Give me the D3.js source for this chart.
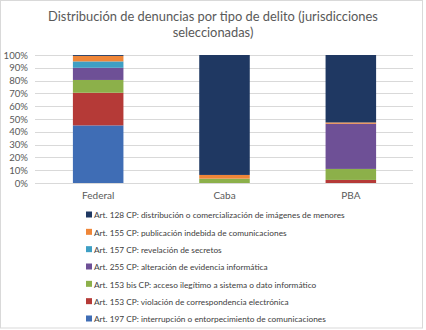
<!DOCTYPE html>
<html><head><meta charset="utf-8">
<script src="https://cdn.jsdelivr.net/npm/d3@7"></script>
<style>body{margin:0;background:#fff}svg{display:block}</style>
</head><body>
<svg id="c" width="426" height="330"></svg>
<script>
const categories = ["Federal", "Caba", "PBA"];
const seriesNames = [
  "Art. 197 CP: interrupción o entorpecimiento de comunicaciones",
  "Art. 153 CP: violación de correspondencia electrónica",
  "Art. 153 bis CP: acceso ilegítimo a sistema o dato informático",
  "Art. 255 CP: alteración de evidencia informática",
  "Art. 157 CP: revelación de secretos",
  "Art. 155 CP: publicación indebida de comunicaciones",
  "Art. 128 CP: distribución o comercialización de imágenes de menores"
];
const art197 = [45, 0, 0];
const art153 = [25.5, 0, 2.4];
const art153bis = [10, 3.4, 8.6];
const art255 = [9.5, 0, 35.3];
const art157 = [5, 0, 0];
const art155 = [4.3, 2.9, 1];
const art128 = [0.7, 93.7, 52.7];
const seriesValues = [art197, art153, art153bis, art255, art157, art155, art128];
const colors = ["#3f6db5", "#b53a37", "#8cb04a", "#6e5096", "#3e9fc4", "#ef8638", "#1f3862"];
const yTicks = [0,10,20,30,40,50,60,70,80,90,100];

const svg = d3.select("#c");
const font = "Lato, 'Open Sans', sans-serif";
svg.append("rect").attr("x",0.5).attr("y",0.5).attr("width",422).attr("height",327.5)
  .attr("fill","#fff").attr("stroke","#d9d9d9");

function fit(t, w, size){
  t.attr("font-size", size);
  const l = t.node().getComputedTextLength();
  t.attr("font-size", size*w/l);
}
// Title
const t1 = svg.append("text").attr("x",213).attr("y",21).attr("text-anchor","middle")
  .attr("font-family",font).attr("fill","#595959")
  .text("Distribución de denuncias por tipo de delito (jurisdicciones");
fit(t1, 330, 14);
svg.append("text").attr("x",213).attr("y",37).attr("text-anchor","middle")
  .attr("font-family",font).attr("fill","#595959").attr("font-size",t1.attr("font-size"))
  .text("seleccionadas)");

const x = d3.scaleBand().domain(categories).range([35,414]).paddingInner(0.6).paddingOuter(0.3);
const y = d3.scaleLinear().domain([0,100]).range([183,55]);

const yAxis = d3.axisLeft(y).tickValues(yTicks).tickFormat(d=>d+"%").tickSize(0).tickPadding(7);
const ga = svg.append("g").attr("transform","translate(35,0)").call(yAxis);
ga.select(".domain").remove();
ga.selectAll("text").attr("font-family",font).attr("font-size",9.6).attr("fill","#595959");

svg.append("g").selectAll("line").data(yTicks).join("line")
  .attr("x1",35).attr("x2",413).attr("y1",d=>Math.round(y(d))+0.5).attr("y2",d=>Math.round(y(d))+0.5)
  .attr("stroke","#d9d9d9").attr("stroke-width",1);

const stackData = categories.map((c,i)=>{
  const o = {cat:c};
  seriesValues.forEach((s,j)=>o[j]=s[i]);
  return o;
});
const stack = d3.stack().keys(seriesValues.map((_,j)=>j))(stackData);
svg.append("g").selectAll("g").data(stack).join("g").attr("fill",(d,i)=>colors[i])
  .selectAll("rect").data(d=>d).join("rect")
  .attr("x",d=>x(d.data.cat)).attr("width",x.bandwidth())
  .attr("y",d=>y(d[1])).attr("height",d=>y(d[0])-y(d[1]));

const xAxis = d3.axisBottom(x).tickSize(0).tickPadding(9);
const gx = svg.append("g").attr("transform","translate(0,183)").call(xAxis);
gx.select(".domain").remove();
gx.selectAll("text").attr("font-family",font).attr("font-size",10).attr("fill","#595959");

// Legend (reverse order)
const legendOrder = d3.range(seriesNames.length).reverse();
const ly = d3.scalePoint().domain(legendOrder).range([215,319]);
const lg = svg.append("g").selectAll("g").data(legendOrder).join("g")
  .attr("transform",d=>`translate(86,${ly(d)})`);
lg.append("rect").attr("x",0).attr("y",-3.5).attr("width",6).attr("height",6).attr("fill",d=>colors[d]);
const lt = lg.append("text").attr("x",8).attr("y",3.4).attr("font-family",font).attr("fill","#404040")
  .text(d=>seriesNames[d]);
const first = lt.filter(d=>d===6);
fit(first, 251, 9.5);
lt.attr("font-size", first.attr("font-size"));
</script>
</body></html>
